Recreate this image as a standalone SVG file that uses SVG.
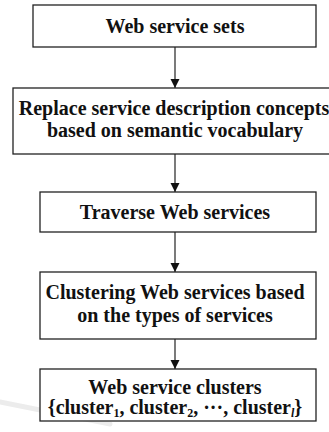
<svg xmlns="http://www.w3.org/2000/svg" width="329" height="432" viewBox="0 0 329 432">
<style>
.box{fill:#fff;stroke:#222;stroke-width:1.3}
.t{font-family:'Liberation Serif','Times New Roman','DejaVu Serif',serif;font-weight:700;font-size:20px;fill:#111;text-anchor:middle}
.edge{stroke:#222;stroke-width:1.2;fill:none}
.sub{font-size:12px}
</style>
<defs>
<marker id="ah" markerWidth="10" markerHeight="10" refX="9" refY="5" orient="auto" markerUnits="userSpaceOnUse">
<path d="M0,0.5 L9,5 L0,9.5 Z" fill="#111"/>
</marker>
</defs>
<rect width="329" height="432" fill="#fff"/>
<path d="M0,402 Q50,412 110,424" stroke="#ececec" stroke-width="5" fill="none" stroke-linecap="round"/>
<g id="connectors">
<line class="edge" x1="175" y1="47" x2="175" y2="88" marker-end="url(#ah)"/>
<line class="edge" x1="175" y1="154" x2="175" y2="192" marker-end="url(#ah)"/>
<line class="edge" x1="175" y1="232" x2="175" y2="272" marker-end="url(#ah)"/>
<line class="edge" x1="175" y1="339" x2="175" y2="369" marker-end="url(#ah)"/>
</g>
<g id="n1">
<rect class="box" x="33" y="5" width="283" height="42"/>
<text class="t" x="175" y="33" font-family="Liberation Serif, serif">Web service sets</text>
</g>
<g id="n2">
<rect class="box" x="13" y="88" width="324" height="66"/>
<text class="t" x="174" y="115" font-family="Liberation Serif, serif">Replace service description concepts</text>
<text class="t" x="175" y="137" font-family="Liberation Serif, serif">based on semantic vocabulary</text>
</g>
<g id="n3">
<rect class="box" x="40" y="192" width="276" height="40"/>
<text class="t" x="175" y="219" font-family="Liberation Serif, serif">Traverse Web services</text>
</g>
<g id="n4">
<rect class="box" x="40" y="272" width="276" height="67"/>
<text class="t" x="175" y="299" font-family="Liberation Serif, serif">Clustering Web services based</text>
<text class="t" x="175" y="322" font-family="Liberation Serif, serif">on the types of services</text>
</g>
<g id="n5">
<rect class="box" x="40" y="369" width="276" height="52"/>
<text class="t" x="175" y="394" font-family="Liberation Serif, serif">Web service clusters</text>
<text class="t" x="175" y="414" font-family="Liberation Serif, serif">{cluster<tspan class="sub" dy="3">1</tspan><tspan dy="-3">, cluster</tspan><tspan class="sub" dy="3">2</tspan><tspan dy="-3">, ···, cluster</tspan><tspan class="sub" dy="3" font-style="italic">l</tspan><tspan dy="-3">}</tspan></text>
</g>
</svg>
